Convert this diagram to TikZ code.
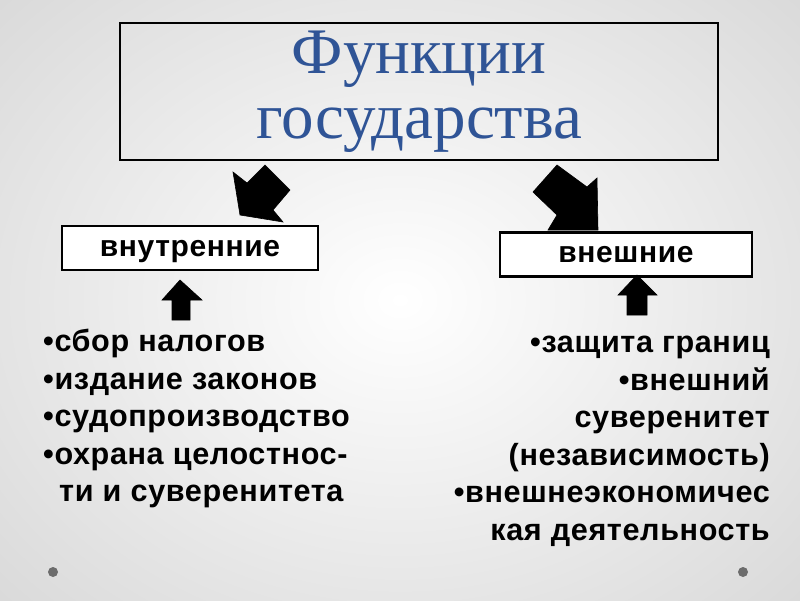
\documentclass[tikz,border=0pt]{standalone}
\usepackage{fontspec}
\setmainfont{Liberation Serif}
\newfontfamily\arialfont[LetterSpace=2]{Liberation Sans}
\usepackage{xcolor}

\definecolor{titleblue}{RGB}{47,84,150}

\begin{document}
\begin{tikzpicture}[
    x=1pt,
    y=-1pt,
    line join=miter,
    box/.style={draw=black, line width=2.2pt, inner sep=0pt},
    labelbox/.style={box, fill=white, minimum height=44pt, text height=21pt, text depth=5pt,
        font=\arialfont\bfseries\fontsize{30}{32}\selectfont},
    blockarrow/.style={fill=black, draw=black, line width=0.6pt},
    listtext/.style={font=\arialfont\bfseries\fontsize{30.6}{37.5}\selectfont, inner sep=0pt}
]

% Рамка
\useasboundingbox (0,0) rectangle (800,600);

% Фон
\clip (0,0) rectangle (800,600);
\fill[inner color=white, outer color=gray!33] (-220,-200) rectangle (1020,800);

% Заголовок
\node[box, minimum width=598pt, minimum height=137pt, align=center,
      text=titleblue, font=\fontsize{65}{65}\selectfont] (titolo) at (419,91.5)
    {Функции\\государства};

% Блоки
\node[labelbox, minimum width=256pt] (vnutr) at (190,248) {внутренние};
\node[labelbox, minimum width=252pt] (vnesh) at (626,254.5) {внешние};

% Наклонные стрелки
\draw[blockarrow] (265,165) -- (290,190) -- (273,210) -- (283,222)
    -- (240,215) -- (233,172) -- (247,183) -- cycle;
\draw[blockarrow] (557,165) -- (533,192) -- (557,215) -- (548,230)
    -- (598,230) -- (597,178) -- (587,187) -- cycle;

% Стрелки вверх
\draw[blockarrow] (180,280) -- (202,300) -- (190,300) -- (190,320)
    -- (172,320) -- (172,300) -- (162,300) -- cycle;
\draw[blockarrow] (637,275) -- (657,295) -- (647,295) -- (647,315)
    -- (627,315) -- (627,295) -- (618,295) -- cycle;

% Списки
\node[listtext, align=left, anchor=north west] (spisokvnutr) at (43,329)
    {•сбор налогов\\
     •издание законов\\
     •судопроизводство\\
     •охрана целостнос-\\
     \hspace*{16pt}ти и суверенитета};
\node[listtext, align=right, anchor=north east] (spisokvnesh) at (770,336)
    {•защита границ\\
     •внешний\\
     суверенитет\\
     (независимость)\\
     •внешнеэкономичес\\
     кая деятельность};

% Точки внизу
\fill[gray!85!black] (53,572) circle (5);
\fill[gray!85!black] (743,572) circle (5);

\end{tikzpicture}
\end{document}
